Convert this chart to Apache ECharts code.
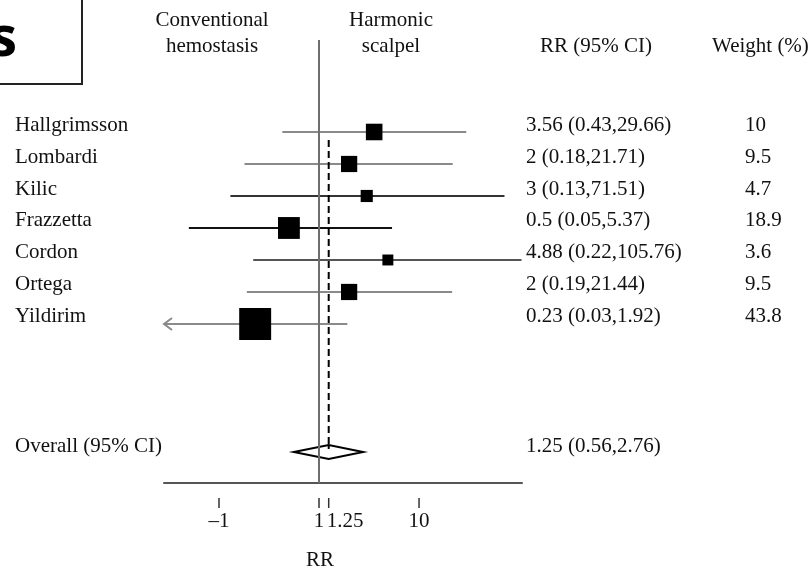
<!DOCTYPE html>
<html>
<head>
<meta charset="utf-8">
<script src="https://cdn.jsdelivr.net/npm/echarts@6/dist/echarts.min.js"></script>
<style>
  html, body { margin: 0; padding: 0; background: #fff; }
  #chart { width: 812px; height: 569px; }
</style>
</head>
<body>
<div id="chart"></div>
<script>
// study data
const studies = ['Hallgrimsson', 'Lombardi', 'Kilic', 'Frazzetta', 'Cordon', 'Ortega', 'Yildirim'];
const rr = [3.56, 2, 3, 0.5, 4.88, 2, 0.23];
const lower = [0.43, 0.18, 0.13, 0.05, 0.22, 0.19, 0.03];
const upper = [29.66, 21.71, 71.51, 5.37, 105.76, 21.44, 1.92];
const weights = [10, 9.5, 4.7, 18.9, 3.6, 9.5, 43.8];

// pooled estimate
const overallRR = 1.25;
const overallLower = 0.56;
const overallUpper = 2.76;

// axis ticks
const tickValues = [0.1, 1, 1.25, 10];
const tickLabels = ['–1', '1', '1.25', '10'];

// styles
const ciColors = ['#8a8a8a', '#8a8a8a', '#333', '#111', '#555', '#8a8a8a', '#8a8a8a'];
const tickAlign = ['center', 'center', 'left', 'center'];
const serif = '"Liberation Serif", "DejaVu Serif", serif';
const txt = '#111';
const ciFloor = 0.03;   // CIs reaching this are clipped with an arrow
const overallRow = 10;

let myChart = echarts.init(document.getElementById('chart'));

function fmt(v, lo, hi) {
  return v + ' (' + lo + ',' + hi + ')';
}

function renderStudy(params, api) {
  let i = params.dataIndex;
  let y = api.coord([1, i])[1];
  let xAxisMin = params.coordSys.x;
  let xEst = api.coord([rr[i], i])[0];
  let xHi = api.coord([upper[i], i])[0];
  let clipped = lower[i] <= ciFloor;
  let xLo = clipped ? xAxisMin : api.coord([lower[i], i])[0];
  let side = 4.45 * Math.sqrt(weights[i]) + 2.5;
  let children = [
    { type: 'line', shape: { x1: xLo, y1: y, x2: xHi, y2: y },
      style: { stroke: ciColors[i], lineWidth: 2 } },
    { type: 'rect', shape: { x: xEst - side / 2, y: y - side / 2, width: side, height: side },
      style: { fill: '#000' } },
    { type: 'text', x: 15, y: y - 7,
      style: { text: studies[i], font: '21px ' + serif, fill: txt, verticalAlign: 'middle' } },
    { type: 'text', x: 526, y: y - 7,
      style: { text: fmt(rr[i], lower[i], upper[i]), font: '21px ' + serif, fill: txt, verticalAlign: 'middle' } },
    { type: 'text', x: 745, y: y - 7,
      style: { text: String(weights[i]), font: '21px ' + serif, fill: txt, verticalAlign: 'middle' } }
  ];
  if (clipped) {
    children.push({ type: 'polyline',
      shape: { points: [[xLo + 8, y - 6], [xLo, y], [xLo + 8, y + 6]] },
      style: { stroke: ciColors[i], lineWidth: 2, fill: null } });
  }
  return { type: 'group', children: children };
}

function renderOverall(params, api) {
  let y = api.coord([1, overallRow])[1];
  let top = api.coord([overallRR, 0.25]);
  let c = api.coord([overallRR, overallRow]);
  let lo = api.coord([overallLower, overallRow])[0];
  let hi = api.coord([overallUpper, overallRow])[0];
  return { type: 'group', children: [
    { type: 'line', shape: { x1: top[0], y1: top[1], x2: c[0], y2: c[1] },
      style: { stroke: '#000', lineWidth: 2, lineDash: [7, 4] } },
    { type: 'polygon', shape: { points: [[lo, y], [c[0], y - 7], [hi, y], [c[0], y + 7]] },
      style: { fill: '#fff', stroke: '#000', lineWidth: 2 } },
    { type: 'line', shape: { x1: c[0], y1: y - 7, x2: c[0], y2: y },
      style: { stroke: '#000', lineWidth: 2, lineDash: [4, 3] } },
    { type: 'text', x: 15, y: y - 5,
      style: { text: 'Overall (95% CI)', font: '21px ' + serif, fill: txt, verticalAlign: 'middle' } },
    { type: 'text', x: 526, y: y - 5,
      style: { text: fmt(overallRR, overallLower, overallUpper), font: '21px ' + serif, fill: txt, verticalAlign: 'middle' } }
  ] };
}

function renderTick(params, api) {
  let k = params.dataIndex;
  let x = api.coord([tickValues[k], 0])[0];
  let align = tickAlign[k];
  return { type: 'group', children: [
    { type: 'line', shape: { x1: x, y1: 498, x2: x, y2: 508 },
      style: { stroke: '#333', lineWidth: 1.5 } },
    { type: 'text', x: align === 'left' ? x - 2 : x, y: 521,
      style: { text: tickLabels[k], font: '21px ' + serif, fill: txt, align: align, verticalAlign: 'middle' } }
  ] };
}

let option = {
  animation: false,
  backgroundColor: '#fff',
  grid: { left: 164, right: 290, top: 40, bottom: 86 },
  xAxis: {
    type: 'log',
    logBase: 10,
    min: 0.0282,
    max: 107,
    axisLine: { show: true, onZero: false, lineStyle: { color: '#555', width: 2 } },
    axisTick: { show: false },
    axisLabel: { show: false },
    splitLine: { show: false }
  },
  yAxis: {
    type: 'value',
    inverse: true,
    min: -2.875,
    max: 10.97,
    show: false
  },
  graphic: [
    { type: 'rect', shape: { x: -2, y: -2, width: 84, height: 86 },
      style: { fill: null, stroke: '#222', lineWidth: 2 } },
    { type: 'text', x: 17, y: 40,
      style: { text: 's', font: 'bold 56px "Open Sans", "DejaVu Sans", sans-serif', fill: '#000', align: 'right', verticalAlign: 'middle' } },
    { type: 'text', x: 212, y: 33,
      style: { text: 'Conventional\nhemostasis', font: '21px ' + serif, fill: txt, align: 'center', verticalAlign: 'middle', lineHeight: 26 } },
    { type: 'text', x: 391, y: 33,
      style: { text: 'Harmonic\nscalpel', font: '21px ' + serif, fill: txt, align: 'center', verticalAlign: 'middle', lineHeight: 26 } },
    { type: 'text', x: 540, y: 46,
      style: { text: 'RR (95% CI)', font: '21px ' + serif, fill: txt, verticalAlign: 'middle' } },
    { type: 'text', x: 712, y: 46,
      style: { text: 'Weight (%)', font: '21px ' + serif, fill: txt, verticalAlign: 'middle' } },
    { type: 'text', x: 320, y: 560,
      style: { text: 'RR', font: '21px ' + serif, fill: txt, align: 'center', verticalAlign: 'middle' } }
  ],
  series: [
    {
      name: 'null line',
      type: 'line',
      data: [],
      markLine: {
        silent: true,
        symbol: 'none',
        label: { show: false },
        lineStyle: { color: '#6e6e6e', width: 2, type: 'solid' },
        data: [{ xAxis: 1 }]
      }
    },
    {
      name: 'studies',
      type: 'custom',
      renderItem: renderStudy,
      data: studies.map((s, i) => [rr[i], i]),
      z: 3
    },
    {
      name: 'overall',
      type: 'custom',
      renderItem: renderOverall,
      data: [[overallRR, overallRow]],
      z: 4
    },
    {
      name: 'ticks',
      type: 'custom',
      renderItem: renderTick,
      data: tickValues.map(v => [v, 0])
    }
  ]
};

myChart.setOption(option);
</script>
</body>
</html>
